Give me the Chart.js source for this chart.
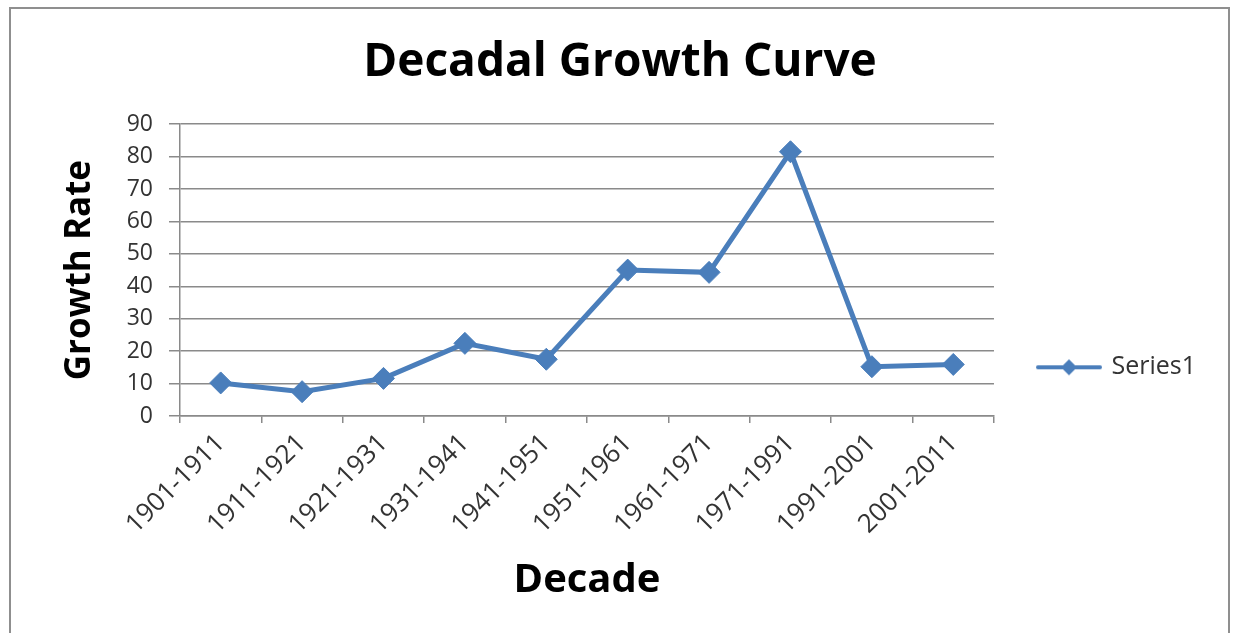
<!DOCTYPE html>
<html>
<head>
<meta charset="utf-8">
<script src="https://cdn.jsdelivr.net/npm/chart.js@4/dist/chart.umd.min.js"></script>
<style>
  body { margin: 0; background: #fff; }
  #wrap { position: relative; width: 1235px; height: 633px; overflow: hidden; }
  #frame { position: absolute; left: 9px; top: 7px; width: 1221px; height: 700px;
           border: 2px solid #8f8f8f; box-sizing: border-box; pointer-events: none; }
</style>
</head>
<body>
<div id="wrap">
  <canvas id="grafico" width="1235" height="633"></canvas>
  <div id="frame"></div>
</div>
<script>
var decadas = ['1901-1911', '1911-1921', '1921-1931', '1931-1941', '1941-1951',
               '1951-1961', '1961-1971', '1971-1991', '1991-2001', '2001-2011'];
var tasa_crecimiento = [10.2, 7.5, 11.6, 22.4, 17.5, 45.0, 44.3, 81.5, 15.2, 15.9];
var nombre_serie = 'Series1';
var eje_y_min = 0;
var eje_y_max = 90;
var eje_y_paso = 10;

var azul = '#4a7ebb';
var gris = '#8a8a8a';
var texto = '#333333';
var fuente = '"Open Sans", Lato, sans-serif';

// marcador de la leyenda: linea con rombo
function marcador_leyenda() {
    var c = document.createElement('canvas');
    c.width = 66;
    c.height = 20;
    var g = c.getContext('2d');
    g.strokeStyle = azul;
    g.lineWidth = 4;
    g.lineCap = 'round';
    g.beginPath();
    g.moveTo(2, 10);
    g.lineTo(64, 10);
    g.stroke();
    g.fillStyle = azul;
    g.beginPath();
    g.moveTo(33, 2);
    g.lineTo(41, 10);
    g.lineTo(33, 18);
    g.lineTo(25, 10);
    g.closePath();
    g.fill();
    return c;
}

var ctx = document.getElementById('grafico').getContext('2d');
var chart_decadas = new Chart(ctx, {
    type: 'line',
    data: {
        labels: decadas,
        datasets: [{
            label: nombre_serie,
            data: tasa_crecimiento,
            borderColor: azul,
            backgroundColor: azul,
            borderWidth: 5,
            pointStyle: 'rectRot',
            pointRadius: 11,
            pointBorderWidth: 1,
            pointBackgroundColor: azul,
            pointBorderColor: azul,
            tension: 0,
            fill: false,
            clip: false
        }]
    },
    options: {
        responsive: false,
        animation: false,
        devicePixelRatio: 1,
        layout: {
            padding: { top: 22, left: 34, right: 29, bottom: 0 }
        },
        plugins: {
            tooltip: { enabled: false },
            title: {
                display: true,
                text: 'Decadal Growth Curve',
                color: '#000',
                font: { family: fuente, size: 46, weight: 'bold' },
                padding: { top: 13, bottom: 34 }
            },
            legend: {
                display: true,
                position: 'right',
                align: 'center',
                fullSize: false,
                title: {
                    display: true,
                    text: '',
                    padding: { top: 180, bottom: 0 }
                },
                labels: {
                    usePointStyle: true,
                    pointStyle: marcador_leyenda(),
                    pointStyleWidth: 60,
                    padding: 45,
                    color: texto,
                    font: { family: fuente, size: 25 }
                }
            }
        },
        scales: {
            x: {
                offset: true,
                grid: {
                    offset: true,
                    drawOnChartArea: false,
                    drawTicks: true,
                    tickLength: 7,
                    color: gris,
                    lineWidth: 1.5
                },
                border: { display: true, color: gris, width: 1.5 },
                ticks: {
                    autoSkip: false,
                    maxRotation: 45,
                    minRotation: 45,
                    padding: 5,
                    color: texto,
                    font: { family: fuente, size: 26 }
                },
                title: {
                    display: true,
                    text: 'Decade',
                    color: '#000',
                    font: { family: fuente, size: 40, weight: 'bold' },
                    padding: { top: 0, bottom: 28 }
                },
                afterFit: function (scale) {
                    scale.height = 217;
                }
            },
            y: {
                min: eje_y_min,
                max: eje_y_max,
                ticks: {
                    stepSize: eje_y_paso,
                    padding: 16,
                    color: texto,
                    font: { family: fuente, size: 23 }
                },
                grid: {
                    color: gris,
                    lineWidth: 1.5,
                    tickLength: 11
                },
                border: { display: true, color: gris, width: 1.5 },
                title: {
                    display: true,
                    text: 'Growth Rate',
                    color: '#000',
                    font: { family: fuente, size: 35, weight: 'bold' },
                    padding: { top: 25, bottom: 0 }
                },
                afterFit: function (scale) {
                    scale.width = 146;
                }
            }
        }
    }
});
</script>
</body>
</html>
